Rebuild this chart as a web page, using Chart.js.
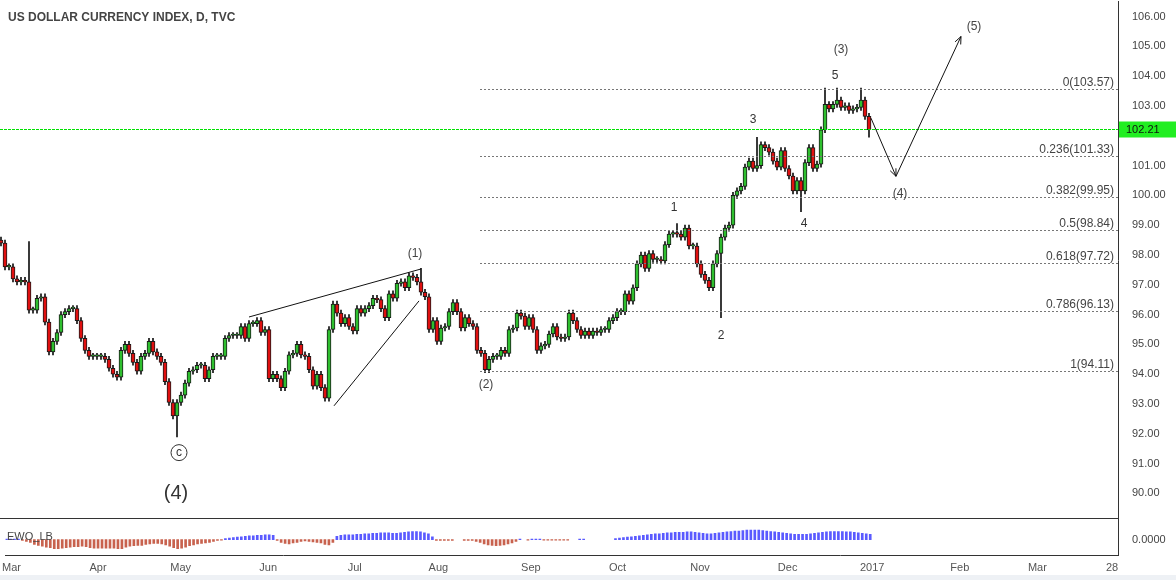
<!DOCTYPE html>
<html>
<head>
<meta charset="utf-8">
<script src="https://cdn.jsdelivr.net/npm/chart.js@4.4.1/dist/chart.umd.min.js"></script>
<style>
  body { margin: 0; background: #fff; width: 1176px; height: 580px; overflow: hidden; position: relative; }
  #main { position: absolute; left: 0; top: -11px; }
  #sub { position: absolute; left: 0; top: 506px; }
  #foot { position: absolute; left: 0; top: 575px; width: 1176px; height: 5px; background: #eef1f5; }
</style>
</head>
<body>
<canvas id="main" width="1176" height="543"></canvas>
<canvas id="sub" width="1176" height="71"></canvas>
<div id="foot"></div>
<script>
// daily closes, Mar 2016 .. Dec 2016 (one per trading day)
var closes = [
  98.4,97.6,97.6,97.2,97.1,97.15,97.1,96.15,96.15,96.55,
  96.6,95.75,94.75,95.1,95.4,96.0,96.1,96.2,96.2,95.8,
  95.2,94.8,94.6,94.6,94.6,94.6,94.5,94.2,94.0,93.9,
  94.8,95.0,94.7,94.4,94.1,94.6,94.7,95.1,94.75,94.6,
  94.4,93.75,93.05,92.6,93.05,93.3,93.7,94.1,94.15,94.3,
  94.3,93.85,94.15,94.6,94.6,94.6,95.2,95.3,95.3,95.3,
  95.6,95.2,95.7,95.7,95.8,95.4,95.5,93.85,94.0,93.85,
  93.55,94.1,94.65,94.7,95.0,94.65,94.6,94.15,93.6,94.0,
  93.55,93.2,95.5,96.35,96.05,95.7,95.9,95.6,95.45,96.2,
  96.05,96.2,96.3,96.55,96.5,96.2,95.9,96.7,96.55,97.05,
  97.1,96.9,97.3,97.25,97.1,96.75,96.6,95.5,95.8,95.1,
  95.55,95.6,96.1,96.4,96.1,95.55,95.9,95.7,95.6,94.8,
  94.7,94.15,94.5,94.6,94.6,94.8,94.7,95.5,95.55,96.05,
  95.95,95.6,95.9,95.5,94.8,94.95,95.0,95.35,95.6,95.25,
  95.2,95.25,96.05,95.8,95.5,95.3,95.45,95.3,95.45,95.4,
  95.5,95.5,95.8,95.9,96.1,96.1,96.7,96.45,96.9,97.7,
  98.0,97.55,98.05,97.85,97.85,97.8,98.35,98.7,98.72,98.7,
  98.6,98.9,98.3,98.3,97.7,97.35,97.15,96.9,97.7,98.05,
  98.6,98.9,99.0,100.0,100.15,100.3,100.95,101.15,100.9,101.0,
  101.7,101.6,101.45,101.15,100.95,101.5,100.9,100.65,100.15,100.5,
  100.15,101.1,101.6,100.9,101.05,102.2,103.05,102.9,103.05,103.2,
  102.95,103.0,102.85,102.9,102.95,103.2,102.65,102.2
];
var firstOpen = 98.5;
// long wicks (index -> price)
var wickHigh = { 0: 98.6, 7: 98.45, 105: 97.55, 169: 99.05, 189: 101.95, 206: 103.6, 209: 103.6, 215: 103.6 };
var wickLow = { 44: 91.9, 180: 95.9, 200: 99.45, 217: 101.95 };

// Elliott wave oscillator bars
var ewo = [
  0.05,0.05,0.05,0.05,
  -0.1,-0.2,-0.3,-0.5,-0.6,-0.7,-0.8,-0.85,-0.95,-0.95,-0.9,-0.85,-0.8,-0.75,-0.75,-0.7,
  -0.75,-0.85,-0.9,-0.9,-0.9,-0.9,-0.9,-0.9,-0.95,-0.95,-0.8,-0.7,-0.65,-0.6,-0.6,-0.5,
  -0.45,-0.4,-0.4,-0.45,-0.55,-0.7,-0.85,-0.95,-0.9,-0.8,-0.65,-0.55,-0.45,-0.4,-0.35,-0.3,
  -0.2,-0.1,-0.05,
  0.1,0.15,0.2,0.25,0.3,0.35,0.4,0.4,0.45,0.45,0.5,0.5,0.45,
  -0.1,-0.3,-0.4,-0.45,-0.35,-0.3,-0.2,-0.15,-0.2,-0.25,-0.3,-0.35,-0.5,-0.55,-0.3,
  0.35,0.45,0.5,0.5,0.5,0.55,0.55,0.6,0.6,0.65,0.65,0.7,0.7,0.7,0.65,0.65,0.7,0.75,0.8,0.85,0.85,0.8,0.7,0.6,0.3,
  -0.1,-0.1,-0.1,-0.1,-0.1,
  null,null,
  -0.1,-0.1,-0.1,-0.2,-0.3,-0.45,-0.55,-0.6,-0.65,-0.6,-0.55,-0.45,-0.35,-0.2,
  0.05,null,-0.05,0.05,0.05,0.05,-0.05,-0.05,-0.05,-0.05,-0.05,-0.05,-0.05,null,null,0.05,0.05,
  null,null,null,null,null,null,null,
  0.1,0.15,0.2,0.25,0.3,0.35,0.4,0.45,0.5,0.55,
  0.6,0.6,0.65,0.7,0.7,0.75,0.75,0.75,0.8,0.8,
  0.75,0.7,0.65,0.6,0.6,0.65,0.7,0.75,0.8,0.85,
  0.9,0.9,0.95,1.0,1.0,1.0,1.0,0.95,0.9,0.85,
  0.8,0.75,0.7,0.65,0.6,0.55,0.55,0.55,0.55,0.6,
  0.65,0.7,0.75,0.8,0.85,0.85,0.85,0.85,0.8,0.8,
  0.75,0.7,0.65,0.6,0.55
];

// month labels and their place on the trading-day axis
var monthLabels = ['Mar','Apr','May','Jun','Jul','Aug','Sep','Oct','Nov','Dec','2017','Feb','Mar','28'];
var monthPos = [1.25, 23, 43.75, 65.75, 87.5, 108.5, 131.75, 153.5, 174.25, 196.25, 217.5, 239.5, 259, 277.75];

var fibLevels = [103.57, 101.33, 99.95, 98.84, 97.72, 96.13, 94.11];
var fibNames = ['0', '0.236', '0.382', '0.5', '0.618', '0.786', '1'];
var lastPrice = 102.21;

var X_MIN = -0.25, X_MAX = 279.25;
var FONT = "'Liberation Sans', Arial, sans-serif";

var opens = closes.map(function (c, i) { return i ? closes[i - 1] : firstOpen; });
var wicks = [], bodies = [], bodyColors = [];
closes.forEach(function (c, i) {
  var o = opens[i];
  var hi = wickHigh[i] !== undefined ? wickHigh[i] : Math.max(o, c) + 0.1;
  var lo = wickLow[i] !== undefined ? wickLow[i] : Math.min(o, c) - 0.1;
  wicks.push({ x: i, y: [lo, hi] });
  var a = Math.min(o, c), b = Math.max(o, c);
  if (b - a < 0.05) { b = a + 0.05; }
  bodies.push({ x: i, y: [a, b] });
  bodyColors.push(c >= o ? '#2fbf2f' : '#e01010');
});

function fitRight(scale) { scale.width = 58; }

var annotations = {
  id: 'annotations',
  afterDraw: function (chart) {
    var ctx = chart.ctx, xs = chart.scales.x, ys = chart.scales.y;
    var px = function (v) { return xs.getPixelForValue(v); };
    var py = function (v) { return ys.getPixelForValue(v); };
    var right = chart.chartArea.right;
    ctx.save();
    // fibonacci levels
    ctx.setLineDash([2, 2]);
    ctx.strokeStyle = '#777';
    ctx.lineWidth = 1;
    ctx.font = '12px ' + FONT;
    ctx.fillStyle = '#444';
    ctx.textAlign = 'right';
    fibLevels.forEach(function (lv, k) {
      var y = Math.round(py(lv)) + 0.5;
      ctx.beginPath(); ctx.moveTo(px(119.75), y); ctx.lineTo(right, y); ctx.stroke();
      ctx.fillText(fibNames[k] + '(' + lv.toFixed(2) + ')', right - 4, y - 4);
    });
    // last price line
    ctx.strokeStyle = '#00e000';
    ctx.setLineDash([3, 1]);
    var ly = Math.round(py(lastPrice)) + 0.5;
    ctx.beginPath(); ctx.moveTo(0, ly); ctx.lineTo(right, ly); ctx.stroke();
    ctx.setLineDash([]);
    // wedge and projection lines
    ctx.strokeStyle = '#111';
    ctx.lineWidth = 1;
    function line(pts) {
      ctx.beginPath();
      pts.forEach(function (p, k) { if (k) ctx.lineTo(px(p[0]), py(p[1])); else ctx.moveTo(px(p[0]), py(p[1])); });
      ctx.stroke();
    }
    line([[62, 95.92], [105, 97.53]]);
    line([[83.25, 92.94], [104.5, 96.46]]);
    line([[217.5, 102.59], [223.75, 100.64], [240, 105.33]]);
    function head(x0, y0, x1, y1) {
      var ax = px(x1), ay = py(y1), ang = Math.atan2(ay - py(y0), ax - px(x0));
      ctx.beginPath();
      ctx.moveTo(ax - 8 * Math.cos(ang - 0.4), ay - 8 * Math.sin(ang - 0.4));
      ctx.lineTo(ax, ay);
      ctx.lineTo(ax - 8 * Math.cos(ang + 0.4), ay - 8 * Math.sin(ang + 0.4));
      ctx.stroke();
    }
    head(217.5, 102.59, 223.75, 100.64);
    head(223.75, 100.64, 240, 105.33);
    // wave labels
    ctx.textAlign = 'center';
    ctx.textBaseline = 'middle';
    function label(t, x, y, size, col) {
      ctx.font = size + 'px ' + FONT;
      ctx.fillStyle = col;
      ctx.fillText(t, px(x), py(y));
    }
    label('(1)', 103.5, 98.03, 12, '#444');
    label('(2)', 121.25, 93.65, 12, '#444');
    label('1', 168.25, 99.57, 12, '#333');
    label('2', 180, 95.29, 12, '#333');
    label('3', 188, 102.55, 12, '#333');
    label('4', 200.75, 99.04, 12, '#333');
    label('5', 208.5, 104.03, 12, '#333');
    label('(3)', 210, 104.9, 12, '#444');
    label('(4)', 224.75, 100.04, 12, '#444');
    label('(5)', 243.25, 105.67, 12, '#444');
    label('(4)', 43.75, 90.0, 20, '#333');
    ctx.beginPath();
    ctx.strokeStyle = '#333';
    ctx.arc(px(44.5), py(91.37), 8, 0, Math.PI * 2);
    ctx.stroke();
    label('c', 44.5, 91.37, 12, '#333');
    // title
    ctx.textAlign = 'left';
    ctx.font = 'bold 12px ' + FONT;
    ctx.fillStyle = '#444';
    ctx.fillText('US DOLLAR CURRENCY INDEX, D, TVC', 8, 29);
    // last price box
    ctx.fillStyle = '#22ee22';
    ctx.fillRect(right + 1, ly - 8, 1176 - right - 1, 16);
    ctx.fillStyle = '#111';
    ctx.font = '11px ' + FONT;
    ctx.fillText(lastPrice.toFixed(2), right + 8, ly);
    // bottom border of the price panel
    ctx.fillStyle = '#333';
    ctx.fillRect(0, Math.round(chart.chartArea.bottom) - 1, right, 1);
    ctx.restore();
  }
};

new Chart(document.getElementById('main'), {
  type: 'bar',
  data: {
    datasets: [
      { data: wicks, backgroundColor: '#111', barThickness: 1, grouped: false, order: 2 },
      { data: bodies, backgroundColor: bodyColors, borderColor: '#1a1a1a', borderWidth: 1, borderSkipped: false, barThickness: 4, grouped: false, order: 1 }
    ]
  },
  options: {
    responsive: false,
    animation: false,
    layout: { padding: 0 },
    plugins: { legend: { display: false }, tooltip: { enabled: false } },
    scales: {
      x: { type: 'linear', min: X_MIN, max: X_MAX, display: false, offset: false },
      y: {
        position: 'right', min: 89.13, max: 106.5, afterFit: fitRight,
        grid: { display: false, drawTicks: true },
        border: { display: true, color: '#333' },
        ticks: { stepSize: 1, includeBounds: false, color: '#444', padding: 6, font: { size: 11, family: FONT },
          // the tick hidden by the last-price box is left out
          callback: function (v) { return Math.abs(v - lastPrice) < 0.4 ? '' : v.toFixed(2); } }
      }
    }
  },
  plugins: [annotations]
});

new Chart(document.getElementById('sub'), {
  type: 'bar',
  data: {
    datasets: [{
      data: ewo.map(function (v, i) { return { x: i, y: v }; }),
      backgroundColor: ewo.map(function (v) { return v >= 0 ? '#5a5aff' : '#c8624e'; }),
      barThickness: 2
    }]
  },
  options: {
    responsive: false,
    animation: false,
    layout: { padding: 0 },
    plugins: { legend: { display: false }, tooltip: { enabled: false } },
    scales: {
      x: {
        type: 'linear', min: X_MIN, max: X_MAX, offset: false,
        grid: { display: false, drawTicks: true, tickLength: 4, tickColor: '#333' },
        border: { display: true, color: '#333' },
        afterBuildTicks: function (s) { s.ticks = monthPos.map(function (v) { return { value: v }; }); },
        ticks: { color: '#555', font: { size: 11, family: FONT }, padding: 2, maxRotation: 0, autoSkip: false,
          callback: function (v, k) { return monthLabels[k]; } }
      },
      y: {
        position: 'right', min: -1.7, max: 2.2, afterFit: fitRight,
        grid: { display: false },
        border: { display: true, color: '#333' },
        afterBuildTicks: function (s) { s.ticks = [{ value: 0 }]; },
        ticks: { color: '#444', padding: 6, font: { size: 11, family: FONT }, callback: function () { return '0.0000'; } }
      }
    }
  },
  plugins: [{
    id: 'ewoLabel',
    afterDraw: function (chart) {
      var ctx = chart.ctx;
      ctx.save();
      ctx.font = '11px ' + FONT; ctx.fillStyle = '#444'; ctx.textBaseline = 'middle';
      ctx.fillText('EWO_LB', 7, 31);
      ctx.restore();
    }
  }]
});
</script>
</body>
</html>
